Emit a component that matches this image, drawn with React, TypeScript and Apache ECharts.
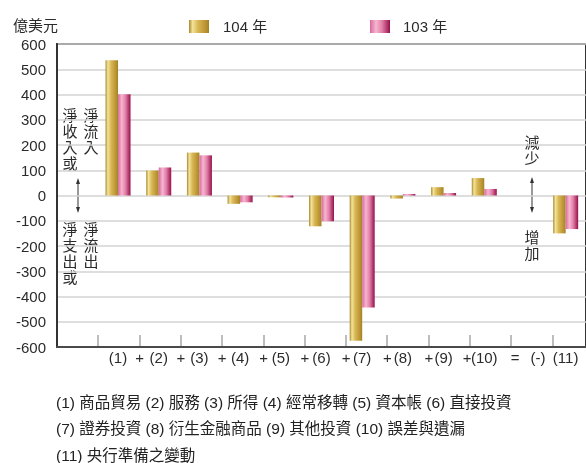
import React, { useEffect, useRef } from "react";
import * as echarts from "echarts";

const categories = ["", "(1)", "(2)", "(3)", "(4)", "(5)", "(6)", "(7)", "(8)", "(9)", "(10)", "", "(11)"];
const series104 = [null, 536, 99, 170, -33, -7, -122, -575, -12, 33, 69, null, -150];
const series103 = [null, 401, 111, 159, -27, -8, -102, -444, 6, 10, 26, null, -133];
const seriesNames = ["104 年", "103 年"];
const footnotes = [
  "(1) 商品貿易 (2) 服務 (3) 所得 (4) 經常移轉 (5) 資本帳 (6) 直接投資",
  "(7) 證券投資 (8) 衍生金融商品 (9) 其他投資 (10) 誤差與遺漏",
  "(11) 央行準備之變動",
];

const FONT = "'Liberation Sans', Arial, 'Noto Sans CJK TC', sans-serif";
const TEXT = "#2b2b2b";
const GRID_LEFT = 57;
const GRID_TOP = 44;
const GRID_W = 537;
const GRID_H = 303;
const SLOT = GRID_W / categories.length;

const gold = new echarts.graphic.LinearGradient(0, 0, 1, 0, [
  { offset: 0, color: "#a8882c" },
  { offset: 0.18, color: "#f3e39a" },
  { offset: 0.45, color: "#d8b654" },
  { offset: 0.8, color: "#bd9634" },
  { offset: 1, color: "#a28228" },
]);
const pink = new echarts.graphic.LinearGradient(0, 0, 1, 0, [
  { offset: 0, color: "#d8699c" },
  { offset: 0.3, color: "#f6b6d0" },
  { offset: 0.6, color: "#e27fa8" },
  { offset: 1, color: "#95104a" },
]);

function vText(x: number, y: number, s: string) {
  return {
    type: "text",
    x,
    y,
    style: {
      text: s.split("").join("\n"),
      font: `15px ${FONT}`,
      fill: TEXT,
      lineHeight: 16,
      align: "center",
      verticalAlign: "top",
    },
  };
}

function arrow(x: number, y1: number, y2: number) {
  return [
    { type: "line", shape: { x1: x, y1: y1 + 3, x2: x, y2: y2 - 3 }, style: { stroke: "#333", lineWidth: 1 } },
    { type: "polygon", shape: { points: [[x, y1], [x - 2, y1 + 6], [x + 2, y1 + 6]] }, style: { fill: "#333" } },
    { type: "polygon", shape: { points: [[x, y2], [x - 2, y2 - 6], [x + 2, y2 - 6]] }, style: { fill: "#333" } },
  ];
}

export default function App() {
  const ref = useRef<HTMLDivElement>(null);
  useEffect(() => {
    if (!ref.current) return;
    const chart = echarts.init(ref.current, null, { renderer: "svg" });

    const plusTexts: any[] = [];
    for (let i = 2; i <= 10; i++) {
      plusTexts.push({
        type: "text",
        x: GRID_LEFT + i * SLOT - (i === 10 ? 3 : 0),
        y: 357,
        style: { text: "+", font: `15px ${FONT}`, fill: TEXT, align: "center", verticalAlign: "middle" },
      });
    }
    const ticks: any[] = [];
    for (let i = 1; i < categories.length; i++) {
      const x = Math.round(GRID_LEFT + i * SLOT);
      ticks.push({
        type: "rect",
        z: 10,
        shape: { x: x - 1, y: GRID_TOP + GRID_H - 12, width: 2, height: 11 },
        style: { fill: "#bdbdbd" },
      });
    }

    chart.setOption({
      animation: false,
      textStyle: { fontFamily: FONT },
      legend: [
        {
          data: [seriesNames[0]],
          left: 184,
          top: 14,
          itemWidth: 20,
          itemHeight: 13,
          icon: "rect",
          textStyle: { fontSize: 15, color: TEXT, fontFamily: FONT, padding: [0, 0, 0, 9] },
        },
        {
          data: [seriesNames[1]],
          left: 365,
          top: 14,
          itemWidth: 20,
          itemHeight: 13,
          icon: "rect",
          textStyle: { fontSize: 15, color: TEXT, fontFamily: FONT, padding: [0, 0, 0, 8] },
        },
      ],
      grid: {
        show: true,
        left: GRID_LEFT,
        top: GRID_TOP,
        width: GRID_W,
        height: GRID_H,
        borderColor: "#333",
        borderWidth: 2,
        containLabel: false,
      },
      xAxis: {
        type: "category",
        data: categories,
        axisLine: { onZero: false, lineStyle: { color: "#4a4a4a", width: 2 } },
        axisTick: { show: false },
        axisLabel: { fontSize: 15, color: TEXT, margin: 3, fontFamily: FONT, interval: 0 },
      },
      yAxis: {
        type: "value",
        min: -600,
        max: 600,
        interval: 100,
        name: "億美元",
        nameLocation: "end",
        nameGap: 11,
        nameTextStyle: { fontSize: 15, color: TEXT, align: "right", fontFamily: FONT, padding: [0, -1, 0, 0] },
        axisLine: { show: true, lineStyle: { color: "#333", width: 2 } },
        axisTick: { show: false },
        axisLabel: { fontSize: 15, color: TEXT, margin: 11, fontFamily: FONT },
        splitLine: { lineStyle: { color: "#d3d3d3", width: 1.5 } },
      },
      series: [
        {
          name: seriesNames[0],
          type: "bar",
          data: series104,
          barWidth: 12.5,
          barGap: "0%",
          itemStyle: { color: gold },
        },
        {
          name: seriesNames[1],
          type: "bar",
          data: series103,
          barWidth: 12.5,
          barGap: "0%",
          itemStyle: { color: pink },
        },
      ],
      graphic: [
        ...ticks,
        vText(70, 107, "淨收入或"),
        vText(91, 107, "淨流入"),
        ...arrow(78, 178, 213),
        vText(70, 221, "淨支出或"),
        vText(91, 221, "淨流出"),
        vText(532, 134, "減少"),
        ...arrow(532, 177, 213),
        vText(532, 229, "增加"),
        ...plusTexts,
        { type: "text", x: 515, y: 357, style: { text: "=", font: `15px ${FONT}`, fill: TEXT, align: "center", verticalAlign: "middle" } },
        { type: "text", x: 538, y: 357, style: { text: "(-)", font: `15px ${FONT}`, fill: TEXT, align: "center", verticalAlign: "middle" } },
        ...footnotes.map((t, i) => ({
          type: "text",
          x: 56,
          y: 402 + i * 26.5,
          style: { text: t, font: `15.5px ${FONT}`, fill: "#222", align: "left", verticalAlign: "middle" },
        })),
      ],
    });
    return () => chart.dispose();
  }, []);
  return <div ref={ref} style={{ position: "fixed", left: 0, top: 0, width: 586, height: 463 }} />;
}
